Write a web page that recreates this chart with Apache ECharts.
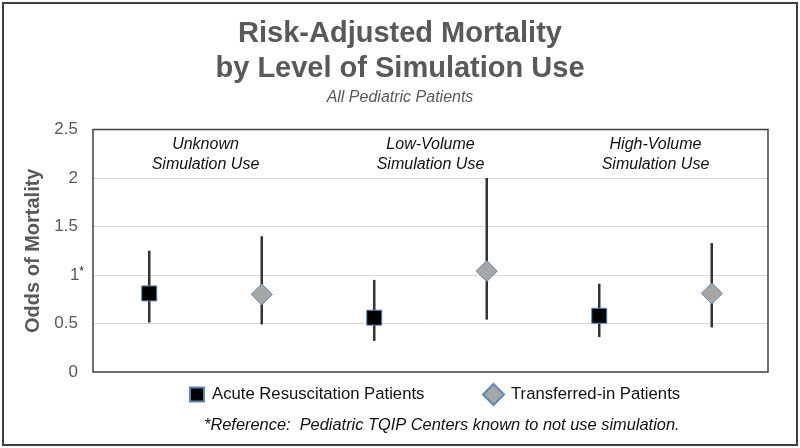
<!DOCTYPE html>
<html>
<head>
<meta charset="utf-8">
<script src="https://cdn.jsdelivr.net/npm/echarts@6/dist/echarts.min.js"></script>
<style>html,body{margin:0;padding:0;background:#fff;}#c{width:800px;height:448px;}</style>
</head>
<body>
<div id="c"></div>
<script>
// ---- data ----
const groups = ['Unknown\nSimulation Use', 'Low-Volume\nSimulation Use', 'High-Volume\nSimulation Use'];
const slots = ['Unknown-Acute', 'Unknown-Transferred', 'Low-Acute', 'Low-Transferred', 'High-Acute', 'High-Transferred'];
const acuteOdds = [0.81, 0.56, 0.58];
const acuteLow = [0.51, 0.32, 0.36];
const acuteHigh = [1.25, 0.95, 0.91];
const transOdds = [0.80, 1.04, 0.81];
const transLow = [0.49, 0.54, 0.46];
const transHigh = [1.40, 2.00, 1.33];
const yTicks = [0, 0.5, 1, 1.5, 2, 2.5];

const FONT = 'Liberation Sans, Arial, sans-serif';
const GRAY = '#595959';

const acutePts = acuteOdds.map((v, i) => [2 * i, v]);
const transPts = transOdds.map((v, i) => [2 * i + 1, v]);
const bars = [];
acuteOdds.forEach((v, i) => bars.push([2 * i, acuteLow[i], acuteHigh[i]]));
transOdds.forEach((v, i) => bars.push([2 * i + 1, transLow[i], transHigh[i]]));

const chart = echarts.init(document.getElementById('c'), null, {renderer: 'canvas'});
chart.setOption({
  animation: false,
  backgroundColor: '#fff',
  textStyle: {fontFamily: FONT},
  graphic: [{
    type: 'rect', shape: {x: 3, y: 3, width: 794, height: 442},
    style: {fill: 'none', stroke: '#404040', lineWidth: 2}, silent: true, z: 100
  }],
  title: [
    {text: 'Risk-Adjusted Mortality\nby Level of Simulation Use', left: 'center', top: 11,
     textStyle: {fontFamily: FONT, fontSize: 29, fontWeight: 'bold', color: GRAY, lineHeight: 35}},
    {text: 'All Pediatric Patients', left: 'center', top: 85,
     textStyle: {fontFamily: FONT, fontSize: 16, fontStyle: 'italic', fontWeight: 'normal', color: GRAY}},
    {text: '*Reference:  Pediatric TQIP Centers known to not use simulation.', left: 199, top: 412,
     textStyle: {fontFamily: FONT, fontSize: 16.4, fontStyle: 'italic', fontWeight: 'normal', color: '#111'}}
  ],
  legend: [
    {left: 189, top: 386, padding: 0, itemWidth: 14, itemHeight: 14, icon: 'rect',
     data: [{name: 'Acute Resuscitation Patients'}],
     textStyle: {fontFamily: FONT, fontSize: 16.7, color: '#111', padding: [0, 0, 0, 3]}},
    {left: 482, top: 383, padding: 0, itemWidth: 21, itemHeight: 21, icon: 'diamond',
     data: [{name: 'Transferred-in Patients'}],
     textStyle: {fontFamily: FONT, fontSize: 16.7, color: '#111', padding: [0, 0, 0, 2]}}
  ],
  grid: {left: 93, right: 32, top: 129.5, bottom: 76, show: true, borderColor: '#404040', borderWidth: 1.5, backgroundColor: 'transparent', z: 5},
  xAxis: [
    {type: 'category', data: slots, boundaryGap: true,
     axisLine: {show: false}, axisTick: {show: false}, axisLabel: {show: false}, splitLine: {show: false}},
    {type: 'category', data: groups, position: 'top', boundaryGap: true,
     axisLine: {show: false}, axisTick: {show: false}, splitLine: {show: false},
     axisLabel: {inside: true, margin: 5, fontFamily: FONT, fontSize: 16, fontStyle: 'italic', color: '#111', lineHeight: 20}}
  ],
  yAxis: {
    type: 'value', min: 0, max: 2.5, interval: 0.5,
    name: 'Odds of Mortality', nameLocation: 'middle', nameGap: 44,
    nameTextStyle: {fontFamily: FONT, fontSize: 20, fontWeight: 'bold', color: GRAY},
    axisLine: {show: false}, axisTick: {show: false},
    splitLine: {showMinLine: false, showMaxLine: false, lineStyle: {color: '#d9d9d9', width: 1}},
    axisLabel: {
      margin: 9, fontFamily: FONT, fontSize: 17, color: GRAY,
      formatter: function (v) {
        if (!yTicks.includes(v)) return '';
        return v === 1 ? '{n|1}{s|*}' : '{n|' + v + '}{p|}';
      },
      rich: {
        n: {fontFamily: FONT, fontSize: 17, color: GRAY},
        s: {fontFamily: FONT, fontSize: 12, color: '#222', padding: [0, 0, 7, 0]},
        p: {width: 6}
      }
    }
  },
  series: [
    {
      type: 'custom', name: 'ci', xAxisIndex: 0, z: 1, silent: true,
      data: bars,
      renderItem: function (params, api) {
        const p1 = api.coord([api.value(0), api.value(1)]);
        const p2 = api.coord([api.value(0), api.value(2)]);
        return {type: 'line', shape: {x1: p1[0], y1: p1[1], x2: p2[0], y2: p2[1]},
                style: {stroke: '#333333', lineWidth: 2.5}};
      }
    },
    {
      type: 'scatter', name: 'Acute Resuscitation Patients', xAxisIndex: 0, z: 3,
      symbol: 'rect', symbolSize: 15, data: acutePts,
      itemStyle: {color: '#000000', borderColor: '#5b87b8', borderWidth: 1, opacity: 1}
    },
    {
      type: 'scatter', name: 'Transferred-in Patients', xAxisIndex: 0, z: 3,
      symbol: 'diamond', symbolSize: 21, data: transPts,
      itemStyle: {color: '#a6a6a6', borderColor: '#5b87b8', borderWidth: 1, opacity: 1}
    }
  ]
});
</script>
</body>
</html>
